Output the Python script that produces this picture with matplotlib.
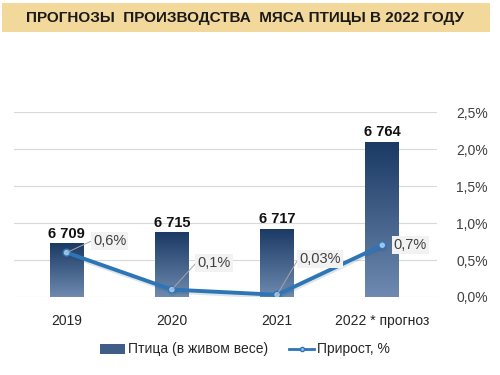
import numpy as np
import matplotlib
matplotlib.use('Agg')
import matplotlib.pyplot as plt
import matplotlib.patheffects as pe
from matplotlib.patches import Rectangle
from matplotlib.lines import Line2D
from matplotlib.colors import LinearSegmentedColormap

plt.rcParams['font.family'] = ['Liberation Sans', 'DejaVu Sans']

# данные
years = ['2019', '2020', '2021', '2022 * прогноз']
volume = [6709, 6715, 6717, 6764]
volume_labels = ['6 709', '6 715', '6 717', '6 764']
growth = [0.6, 0.1, 0.03, 0.7]
growth_labels = ['0,6%', '0,1%', '0,03%', '0,7%']
pct_ticks = [0, 0.5, 1.0, 1.5, 2.0, 2.5]
pct_tick_labels = ['0,0%', '0,5%', '1,0%', '1,5%', '2,0%', '2,5%']

fig = plt.figure(figsize=(5, 3.75), dpi=100)

# заголовок на плашке
fig.patches.append(Rectangle((0.004, 0.915), 0.976, 0.077, transform=fig.transFigure,
                             facecolor='#F3D89C', edgecolor='none', zorder=0))
fig.text(0.49, 0.953, 'ПРОГНОЗЫ  ПРОИЗВОДСТВА  МЯСА ПТИЦЫ В 2022 ГОДУ',
         ha='center', va='center', fontsize=11, fontweight='bold', color='#1a1a1a')

ax = fig.add_axes([0.028, 0.208, 0.846, 0.493])
x = np.arange(len(years))
w = 0.32

for s in ax.spines.values():
    s.set_visible(False)
ax.set_yticks([])
ax.set_xticks(x)
ax.set_xticklabels(years, fontsize=10, color='#262626')
ax.tick_params(axis='x', length=0, pad=12)

# столбцы с градиентом
cmap = LinearSegmentedColormap.from_list('g', ['#6E8AB0', '#1A3963'])
grad = np.linspace(0, 1, 256).reshape(-1, 1)
bars = ax.bar(x, volume, width=w, bottom=0, color='none', edgecolor='none', zorder=2)
for b in bars:
    x0, y0 = b.get_x(), 6680
    x1, y1 = x0 + b.get_width(), b.get_height()
    im = ax.imshow(grad, cmap=cmap, extent=[x0, x1, y0, y1], origin='lower',
                   aspect='auto', zorder=2)
    im.set_clip_path(b)
ax.set_xlim(-0.5, 3.52)
ax.set_ylim(6680, 6780)

for xi, v, lab in zip(x, volume, volume_labels):
    ax.text(xi, v + 1.5, lab, ha='center', va='bottom', fontsize=10.5,
            fontweight='bold', color='#111111')

# вторая ось
ax2 = ax.twinx()
ax2.set_ylim(0, 2.5)
ax2.set_yticks(pct_ticks)
ax2.set_yticklabels(pct_tick_labels, fontsize=10, color='#404040')
ax2.tick_params(axis='y', length=0, pad=14)
for s in ax2.spines.values():
    s.set_visible(False)
for t in pct_ticks:
    ax.axhline(6680 + t * 40, color='#D9D9D9', lw=0.8, zorder=0)
ax2.plot(x, growth, color='#2E75B6', lw=2.8, marker='o', ms=5,
         mfc='#9DC3E6', mec='#2E75B6', mew=1, zorder=3,
         path_effects=[pe.SimpleLineShadow(offset=(0.5, -1.5), shadow_color='#1F4E79',
                                           alpha=0.15), pe.Normal()])

# подписи прироста
offsets = [(0.25, 0.16), (0.24, 0.36), (0.21, 0.48), (0.11, 0.0)]
for xi, g, lab, (dx, dy) in zip(x, growth, growth_labels, offsets):
    tx, ty = xi + dx, g + dy
    if dy > 0:
        ax2.plot([xi, tx - 0.01], [g, ty], color='#A6A6A6', lw=0.7, zorder=3)
    ax2.text(tx, ty, lab, ha='left', va='center', fontsize=10.5, color='#404040',
             bbox=dict(boxstyle='square,pad=0.15', fc='#F2F2F2', ec='none'), zorder=4)

# легенда
h1 = Rectangle((0, 0), 1, 1, facecolor='#3E5E88', edgecolor='none')
h2 = Line2D([0], [0], color='#2E75B6', lw=2, marker='o', ms=3, mfc='#9DC3E6', mec='#2E75B6')
fig.legend([h1, h2], ['Птица (в живом весе)', 'Прирост, %'], loc='center',
           bbox_to_anchor=(0.49, 0.068), ncol=2, frameon=False, fontsize=10,
           handlelength=1.8, handletextpad=0.2, columnspacing=1.5, labelcolor='#262626')

plt.savefig('out.png', dpi=100)
